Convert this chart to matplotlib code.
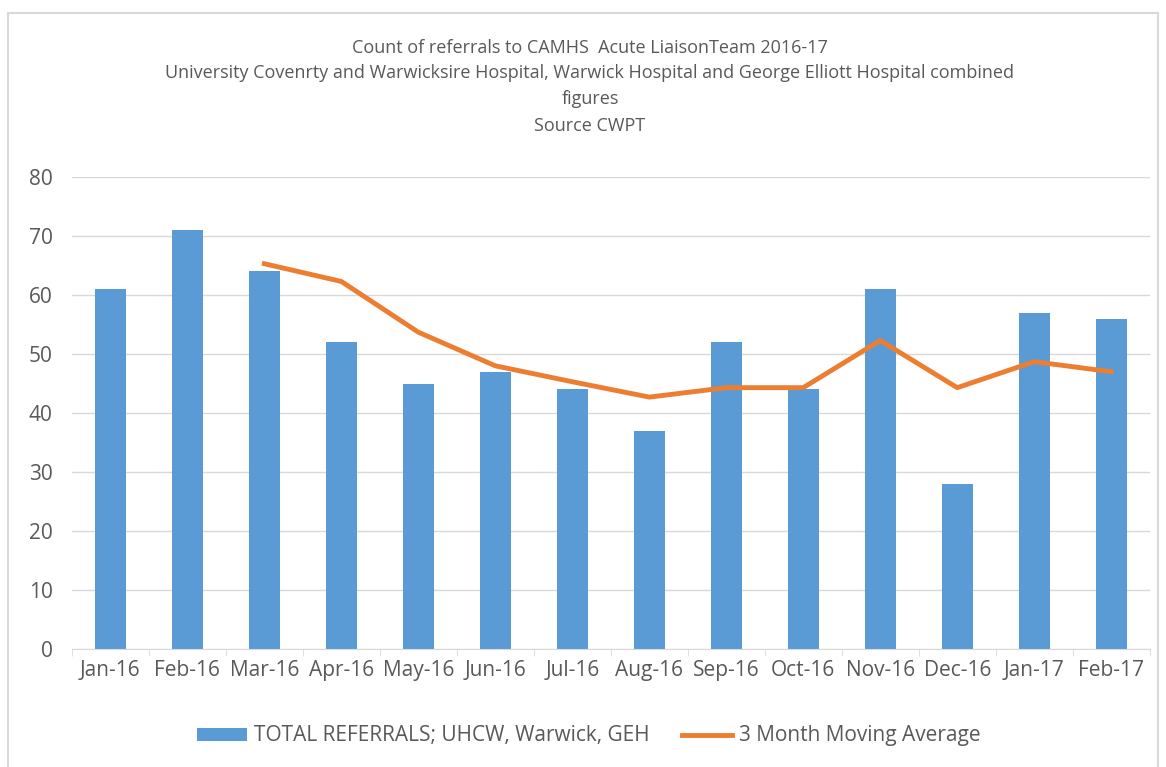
import matplotlib.pyplot as plt
import numpy as np
from matplotlib.patches import Rectangle

months = ['Jan-16', 'Feb-16', 'Mar-16', 'Apr-16', 'May-16', 'Jun-16', 'Jul-16',
          'Aug-16', 'Sep-16', 'Oct-16', 'Nov-16', 'Dec-16', 'Jan-17', 'Feb-17']
referrals = [61, 71, 64, 52, 45, 47, 44, 37, 52, 44, 61, 28, 57, 56]
# 3 month moving average, starts at Mar-16
moving_avg = [None, None, 65.3, 62.3, 53.7, 48.0, 45.3, 42.7, 44.3, 44.3, 52.3, 44.3, 48.7, 47.0]

title_lines = [
    'Count of referrals to CAMHS  Acute LiaisonTeam 2016-17',
    'University Covenrty and Warwicksire Hospital, Warwick Hospital and George Elliott Hospital combined',
    'figures',
    'Source CWPT',
]

plt.rcParams['font.family'] = ['Open Sans', 'DejaVu Sans']

fig = plt.figure(figsize=(11.66, 7.67), dpi=100)
ax = fig.add_axes([0.0617, 0.1538, 0.9243, 0.6154])

# outer chart frame
fig.patches.append(Rectangle((8 / 1166, -0.01), 1150 / 1166, 1 - 13 / 767 + 0.01,
                             transform=fig.transFigure, fill=False,
                             edgecolor='#D9D9D9', linewidth=1.5))

x = np.arange(len(months))
bars = ax.bar(x, referrals, width=0.4, color='#5B9BD5', zorder=2)
ma_x = [i for i, v in enumerate(moving_avg) if v is not None]
ma_y = [v for v in moving_avg if v is not None]
line, = ax.plot(ma_x, ma_y, color='#ED7D31', linewidth=3.5, zorder=3)

ax.set_xlim(-0.5, len(months) - 0.5)
ax.set_ylim(0, 80)
ax.set_yticks(range(0, 81, 10))
ax.set_xticks(x)
ax.set_xticklabels(months)
ax.grid(axis='y', color='#D9D9D9', linewidth=1, zorder=0)
for s in ['top', 'right', 'left']:
    ax.spines[s].set_visible(False)
ax.spines['bottom'].set_color('#D9D9D9')
ax.tick_params(axis='y', length=0, labelsize=15, labelcolor='#595959', pad=14)
ax.tick_params(axis='x', length=0, labelsize=15, labelcolor='#595959', pad=8)
# minor ticks between categories on the x axis
ax.set_xticks(np.arange(-0.5, len(months), 1), minor=True)
ax.tick_params(axis='x', which='minor', length=5, color='#D9D9D9')

ys = [48, 73, 99, 126]
for txt, yp in zip(title_lines, ys):
    fig.text(0.506, 1 - yp / 767, txt, ha='center', va='center',
             fontsize=13, color='#595959')

fig.legend([bars, line], ['TOTAL REFERRALS; UHCW, Warwick, GEH', '3 Month Moving Average'],
           loc='center', bbox_to_anchor=(0.505, 1 - 736 / 767), ncol=2,
           frameon=False, fontsize=15, labelcolor='#595959',
           handlelength=2.4, handleheight=0.6, columnspacing=1.6, handletextpad=0.3)

fig.savefig('out.png', dpi=100)
